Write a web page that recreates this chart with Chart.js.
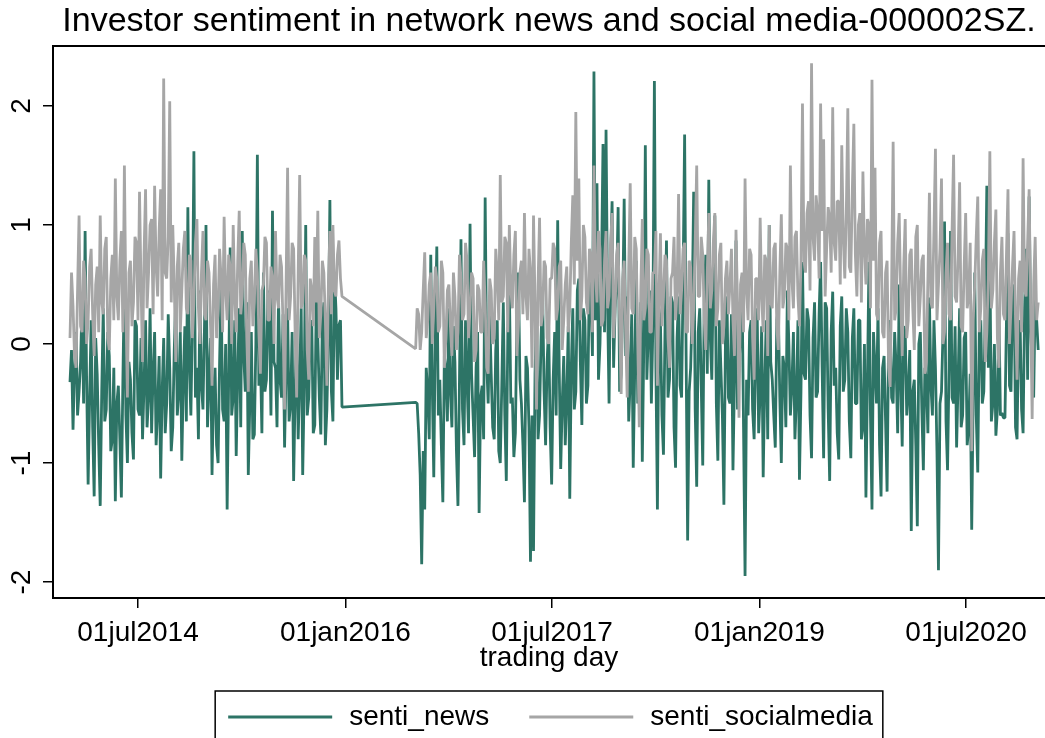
<!DOCTYPE html>
<html>
<head>
<meta charset="utf-8">
<title>Investor sentiment - 000002SZ</title>
<script src="https://cdn.jsdelivr.net/npm/chart.js@4.4.0/dist/chart.umd.min.js"></script>
<style>
  html, body { margin: 0; padding: 0; background: #fff; }
</style>
</head>
<body>
<canvas id="chart" width="1045" height="738"></canvas>
<script>
const titleText = 'Investor sentiment in network news and social media-000002SZ.';
const xTitle = 'trading day';
const seriesNames = ['senti_news', 'senti_socialmedia'];
const seriesColors = ['#2d7466', '#a6a6a6'];

const xTickDates = ['2014-07-01', '2016-01-01', '2017-07-01', '2019-01-01', '2020-07-01'];
const yTickValues = [-2, -1, 0, 1, 2];

// one reading every 4 calendar days; no data between late 2015 and mid 2016
const sampleStepDays = 4;
const firstStart = '2014-01-02';
const secondStart = '2016-07-05';

const newsFirst = [
  -0.32, -0.05, -0.72, -0.20, 0.10, -0.60, -0.40, -0.15, 0.35, -0.50,
  0.95, -0.30, -1.18, -0.45, 0.20, -0.70, -1.28, 0.05, -0.25, -0.85,
  -1.36, -0.40, 0.30, -0.65, -0.55, 0.10, -0.10, -0.90, -0.80, -0.20,
  -1.32, -0.50, -0.35, -0.80, -1.29, -0.30, 0.55, -0.60, -1.00, -0.15,
  -0.30, -0.75, -0.97, 0.20, 0.15, -0.55, -0.60, 0.05, -0.80, -0.35,
  0.20, -0.70, -0.45, 0.30, -0.75, -0.25, 0.10, -0.85, -0.55, -0.10,
  -1.13, -0.40, 0.05, -0.75, -0.50, 0.25, -0.20, -0.90, -0.70, -0.05,
  0.40, -0.60, -0.40, 0.10, -0.98, -0.30, 0.15, -0.65, 1.15, -0.20,
  -0.60, 0.20, 1.62, -0.45, -0.20, -0.80, 0.45, -0.35, -0.55, 0.15,
  1.00, -0.70, -0.30, 0.05, -1.10, -0.40, -0.20, -0.85, -1.00, -0.15,
  0.50, -0.55, -0.65, 0.00, -1.39, -0.30, 0.81, -0.60, -0.45, 0.20,
  -0.94, -0.25, 0.30, -0.70, 0.95, -0.10, -0.40, 0.35, -1.10, -0.50,
  0.10, -0.80, -0.76, 0.00, 1.59, -0.35, -0.10, -0.75, 0.60, -0.40,
  -0.30, 0.45, 0.20, -0.60, 1.12, -0.15, -0.20, -0.70, 0.40, -0.30,
  -0.45, 0.25, -0.87, -0.20, 0.30, -0.65, -0.50, 0.10, -1.15, -0.40,
  0.15, -0.80, -0.30, 0.30, -1.10, -0.35, 1.00, -0.60, -0.45, 0.15,
  0.20, -0.75, -0.68, 0.40, 0.05, -0.45, -0.76, 0.20, 0.35, -0.85,
  -0.55, 0.05, 1.21, -0.40, -0.65, 0.60, 0.30, -0.30, 0.16, 0.20,
  -0.53
];
const socialFirst = [
  0.05, 0.60, 0.32, -0.10, -0.20, 0.45, 1.08, 0.15, 0.10, 0.70,
  0.55, 0.00, 0.20, 0.65, 0.80, 0.25, -0.10, 0.50, 0.65, 0.10,
  1.08, 0.35, 0.25, 0.80, 0.90, 0.05, -0.05, 0.55, 0.75, 0.20,
  1.39, 0.40, 0.20, 0.70, 0.95, 0.10, 1.50, 0.30, -0.45, 0.60,
  0.70, 0.15, 0.35, 0.90, 0.85, 0.20, 1.28, 0.50, -0.15, 0.75,
  1.30, 0.30, 0.60, 1.00, 1.05, 0.25, 1.33, 0.65, 0.40, 0.95,
  1.30, 0.20, 2.23, 0.60, 0.55, 0.90, 2.04, 0.35, 1.00, 0.50,
  -0.15, 0.65, 0.85, 0.10, 0.45, 0.80, 0.95, 0.30, 0.25, 0.75,
  0.70, 0.05, 0.35, 0.85, 1.05, 0.30, 0.00, 0.60, 0.95, 0.25,
  0.20, 0.70, 0.60, 0.15, -0.35, 0.50, 0.75, 0.05, 0.30, 0.80,
  0.55, 0.10, 1.07, 0.45, 0.20, 0.75, 0.65, 0.00, 1.00, 0.40,
  0.10, 0.70, 1.12, 0.25, 0.40, 0.85, 0.75, 0.05, -0.40, 0.55,
  0.70, 0.15, 0.35, 0.80, 0.60, 0.10, -0.25, 0.45, 0.50, 0.90,
  0.85, 0.20, 0.20, 0.65, 0.55, 0.00, 0.95, 0.40, 0.30, 0.75,
  0.65, 0.15, -0.55, 0.50, 1.48, 0.20, 0.40, 0.85, 0.80, 0.10,
  -0.45, 0.60, 1.42, 0.30, 0.35, 0.75, 0.70, -0.05, -0.30, 0.55,
  0.45, 0.15, 0.90, 0.35, 1.12, 0.05, 0.25, 0.70, 0.60, 0.20,
  -0.35, 0.50, 0.95, 0.25, 1.00, 0.45, 0.40, 0.75, 0.87, 0.55,
  0.40
];
const newsSecond = [
  -0.49, -0.50, -0.75, -1.10, -1.85, -0.90, -1.39, -0.20, -0.40, -0.80,
  0.75, -0.35, -1.12, 0.10, 0.82, -0.60, -0.30, -0.85, -1.33, -0.10,
  -0.20, -0.65, 0.30, -0.40, -0.70, 0.15, -0.15, -0.90, -1.36, -0.30,
  0.88, -0.55, -0.85, 0.20, -0.30, -0.75, 1.01, -0.25, -0.60, -0.95,
  -0.20, 0.10, -1.42, -0.45, -0.35, -0.80, 1.23, -0.15, -0.50, 0.25,
  -0.25, -0.70, -0.80, -0.05, 0.20, -0.90, -1.00, -0.35, 0.35, -0.60,
  -1.15, 0.10, 0.50, -0.50, -0.45, -0.95, -0.75, 0.20, 0.60, -0.30,
  -0.50, -0.85, -1.33, -0.10, -0.20, -0.70, -1.83, -0.60, -1.74, -0.25,
  0.30, -0.80, -0.60, 0.05, 0.45, -0.40, -0.85, -0.15, 0.15, -0.70,
  -1.18, -0.30, 0.10, -0.60, 1.04, -0.20, -1.05, -0.50, -0.10, -0.85,
  -0.45, 0.15, -1.30, -0.20, 0.30, -0.55, -0.40, 0.45, 0.55, -0.15,
  -0.68, 0.30, 0.20, -0.50, -0.35, 0.60, 0.40, -0.10, 2.29, 0.20,
  1.35, -0.30, 0.00, 0.65, 1.68, 0.10, 1.80, 0.35, -0.50, 0.70,
  1.20, -0.20, 0.30, 0.50, 1.15, -0.40, -0.25, 0.30, 1.22, -0.10,
  0.40, -0.65, -0.30, 0.25, -1.04, -0.20, 0.70, -0.50, -0.40, 0.35,
  -0.99, 0.00, 1.67, -0.30, 0.10, 0.45, -0.50, 0.15, 2.21, -0.20,
  -1.39, 0.30, 0.20, -0.60, -0.93, 0.10, 0.87, -0.45, -0.30, 0.40,
  0.35, -0.70, -1.04, 0.05, 0.40, -0.35, -0.45, 0.55, 1.76, -0.10,
  -1.65, -0.40, -0.20, 0.30, 1.28, -0.55, -1.20, 0.10, 0.30, -0.35,
  -1.02, 0.40, 0.75, -0.25, 1.38, 0.05, -0.30, 0.60, 1.08, -0.50,
  -0.98, 0.20, -0.20, -0.60, -1.35, 0.00, 0.40, -0.45, -0.50, 0.25,
  -1.06, -0.30, 0.87, -0.55, -0.20, 0.10, 0.50, -0.70, -1.95, -0.30,
  -0.60, 0.10, 0.20, -0.55, -0.80, -0.10, 0.30, -0.75, -0.40, 0.15,
  -1.12, -0.35, 0.20, -0.80, 1.00, -0.15, -0.30, -0.60, -0.87, 0.20,
  0.30, -0.45, -1.00, -0.10, -0.20, -0.70, 0.45, 0.00, -0.60, -0.35,
  0.10, -0.80, -0.45, 0.20, -1.14, -0.40, 0.69, -0.25, -0.30, 0.30,
  0.20, -0.60, -0.96, 0.05, 0.35, -0.45, -0.40, 0.25, 0.69, -0.20,
  -0.96, 0.35, 0.30, -0.55, -1.15, 0.10, 0.44, -0.35, -0.20, -0.75,
  -0.97, 0.15, 0.40, -0.40, -0.30, 0.30, 0.10, -0.65, -0.96, 0.05,
  0.30, -0.50, -0.50, 0.20, 0.20, -0.80, -0.70, 0.00, -1.29, -0.30,
  0.69, -0.60, -1.39, 0.10, -0.20, -0.50, 0.30, -0.85, -1.28, -0.20,
  -0.10, -0.65, -1.24, 0.05, 0.20, -0.45, -0.50, 0.10, -0.20, -0.75,
  0.50, -0.30, -0.86, 0.15, 0.10, -0.60, -0.40, -0.05, -1.57, -0.40,
  -0.30, -0.85, -1.53, 0.00, 0.10, -0.55, -1.06, -0.20, -0.30, -0.75,
  0.39, -0.35, -0.60, 0.20, -0.20, -0.90, -1.90, -0.50, -0.40, 0.10,
  1.03, -0.65, -1.06, -0.20, 0.95, -0.45, -0.50, 0.15, -0.87, -0.30,
  0.30, -0.70, -0.60, 0.05, 0.10, -0.85, -0.70, -0.25, -1.56, -0.40,
  0.60, -0.60, -1.08, 0.10, 0.20, -0.50, -0.40, 0.30, 1.33, -0.20,
  0.75, -0.65, -0.50, 0.00, -0.77, -0.55, 0.30, -0.60, -0.58, -0.62,
  -0.62, 0.20, 0.93, -0.35, -0.40, 0.40, 0.50, -0.70, -0.80, 0.10,
  0.20, -0.55, -0.75, 0.30, 0.80, -0.30, 1.24, 0.15, -0.20, -0.45,
  0.40, 0.20, -0.05
];
const socialSecond = [
  -0.04, 0.30, 0.25, -0.05, 0.10, 0.45, 0.77, 0.05, 0.20, 0.50,
  0.60, 0.00, 0.30, 0.65, 0.55, 0.10, 0.15, 0.70, 0.60, -0.20,
  0.05, 0.45, 0.50, 0.15, -0.10, 0.60, 0.40, -0.05, 0.10, 0.75,
  0.55, 0.20, 0.25, 0.85, 0.70, 0.05, 0.30, 0.60, 0.55, -0.15,
  -0.05, 0.50, 0.45, 0.10, 0.10, 0.70, 0.35, -0.20, -0.25, 0.55,
  0.45, 0.00, 0.05, 0.80, 0.60, 0.20, 1.42, 0.35, 0.40, 0.90,
  0.85, 0.10, 1.00, 0.45, 0.30, 0.75, 0.95, -0.10, 0.15, 0.60,
  0.70, 0.25, 1.10, 0.40, 0.20, 0.80, 0.60, -0.20, 1.08, 0.35,
  -0.55, 0.50, 1.06, 0.15, 0.25, 0.70, 0.65, 0.05, 0.00, 0.55,
  0.55, 0.85, 0.80, 0.20, 0.30, 0.65, 0.70, -0.05, 0.20, 0.50,
  0.65, 0.10, 0.30, 0.85, 1.25, 0.50, 1.95, 0.70, 1.39, 0.20,
  0.40, 1.00, 0.90, 0.35, 0.25, 0.80, 0.75, 0.10, 1.50, 0.60,
  0.35, 0.95, 0.80, 0.15, 0.20, 0.70, 0.95, 0.30, 0.40, 0.85,
  1.10, 0.05, 0.30, 0.75, 0.85, 0.20, -0.42, 0.55, 0.70, 0.10,
  -0.45, 0.65, 1.35, 0.30, 0.25, 0.90, 0.80, 0.00, -0.70, 0.45,
  1.05, 0.20, 0.30, 0.80, 0.75, 0.10, 0.10, 0.60, 0.60, 0.95,
  -0.35, 0.40, 0.93, 0.15, 0.40, 0.75, 0.70, 0.05, -0.20, 0.55,
  0.60, 0.90, 0.20, 0.45, 1.26, 0.25, 0.45, 0.80, 0.85, 0.10,
  0.10, 0.70, 0.65, 0.00, 0.30, 0.85, 1.50, 0.40, 0.40, 0.90,
  0.75, 0.20, -0.05, 0.60, 1.10, 0.30, 0.45, 0.85, 1.10, 0.15,
  0.30, 0.75, 0.85, 0.00, 0.15, 0.55, 0.70, 0.25, 0.50, 0.80,
  0.20, -0.10, 0.96, 0.35, -0.62, 0.50, 0.60, 0.10, 1.39, 0.45,
  0.20, 0.80, 0.75, 0.05, -0.30, 0.55, 0.55, 0.20, 1.06, 0.40,
  0.10, 0.75, 0.70, -0.10, 1.00, 0.35, 0.30, 0.80, 0.85, 0.15,
  -0.05, 0.60, 1.09, 0.30, 0.40, 0.85, 0.80, 0.20, 1.50, 0.55,
  0.30, 0.90, 0.95, 0.40, 0.15, 0.70, 2.02, 0.70, 0.60, 1.10,
  1.20, 0.45, 2.36, 0.90, 0.70, 1.25, 1.10, 0.55, 2.02, 0.95,
  1.72, 0.40, 0.80, 1.15, 1.05, 0.60, 1.99, 0.85, 0.70, 1.20,
  1.20, 0.50, 1.67, 0.90, 0.55, 1.10, 1.98, 0.65, 0.60, 1.30,
  1.85, 0.75, 0.40, 1.00, 1.10, 0.35, 1.45, 0.80, 0.50, 1.05,
  1.00, 0.30, 2.22, 0.70, 1.48, 0.25, 0.20, 0.85, 0.95, 0.10,
  0.05, 0.60, 0.70, -0.20, -0.36, 0.50, 1.70, 0.20, 0.30, 0.85,
  1.10, 0.40, -0.10, 0.65, 1.05, 0.05, 0.20, 0.75, 0.80, 0.30,
  -0.05, 0.90, 1.00, 0.15, 0.40, 0.70, 0.75, -0.25, -0.15, 0.55,
  1.27, 0.35, 0.30, 0.95, 1.64, 0.20, 0.50, 0.80, 1.39, 0.00,
  0.10, 0.60, 0.85, 0.25, 0.20, 0.95, 1.59, 0.40, 0.35, 0.75,
  1.36, 0.15, 0.10, 0.65, 1.10, 0.30, 0.40, 0.85, -0.90, 0.20,
  0.50, 0.90, 1.24, 0.10, 0.30, 0.70, 0.80, -0.15, 0.10, 0.55,
  1.62, 0.30, 0.45, 0.85, 1.13, 0.05, -0.20, 0.60, 0.90, 0.25,
  0.20, 0.75, 1.30, 0.00, 0.30, 0.65, 0.95, 0.20, -0.30, 0.55,
  0.70, 0.10, 1.56, 0.45, 0.40, 0.85, 1.30, 0.30, -0.63, 0.50,
  0.90, 0.20, 0.35
];

// dates are kept as Stata daily values (days since 01jan1960)
const DAY_MS = 86400000;
const EPOCH = Date.UTC(1960, 0, 1);
const MONTHS = ['jan', 'feb', 'mar', 'apr', 'may', 'jun', 'jul', 'aug', 'sep', 'oct', 'nov', 'dec'];

function toStataDay(iso) {
  return Math.round((Date.parse(iso) - EPOCH) / DAY_MS);
}

function fmtDay(d) {
  const dt = new Date(EPOCH + d * DAY_MS);
  return String(dt.getUTCDate()).padStart(2, '0') + MONTHS[dt.getUTCMonth()] + dt.getUTCFullYear();
}

function toPoints(start, vals) {
  const s = toStataDay(start);
  return vals.map((v, i) => ({ x: s + i * sampleStepDays, y: v }));
}

const newsData = toPoints(firstStart, newsFirst).concat(toPoints(secondStart, newsSecond));
const socialData = toPoints(firstStart, socialFirst).concat(toPoints(secondStart, socialSecond));
const xTickDays = xTickDates.map(toStataDay);

const FONT = '"Liberation Sans", Arial, sans-serif';
Chart.defaults.font.family = FONT;
Chart.defaults.color = '#000';

// top edge of the plot region
const frameTop = {
  id: 'frameTop',
  afterDraw(chart) {
    const { ctx, chartArea } = chart;
    ctx.save();
    ctx.strokeStyle = '#000';
    ctx.lineWidth = 2;
    ctx.beginPath();
    ctx.moveTo(chartArea.left, chartArea.top);
    ctx.lineTo(chartArea.right, chartArea.top);
    ctx.stroke();
    ctx.restore();
  }
};

// y labels standing on their side, as Stata draws them
const yTickText = {
  id: 'yTickText',
  afterDraw(chart) {
    const { ctx } = chart;
    const y = chart.scales.y;
    ctx.save();
    ctx.font = '28px ' + FONT;
    ctx.fillStyle = '#000';
    ctx.textAlign = 'center';
    ctx.textBaseline = 'middle';
    y.ticks.forEach(t => {
      ctx.save();
      ctx.translate(y.right - 30.5, y.getPixelForValue(t.value));
      ctx.rotate(-Math.PI / 2);
      ctx.fillText(String(t.value), 0, 0);
      ctx.restore();
    });
    ctx.restore();
  }
};

// legend in a frame under the axis title
const boxedLegend = {
  id: 'boxedLegend',
  afterDraw(chart) {
    const { ctx, chartArea } = chart;
    const top = chartArea.bottom + 93;
    const midY = top + 26;
    const lineLen = 104, gapText = 17, gapItem = 40, padL = 13, padR = 10;
    ctx.save();
    ctx.font = '28px ' + FONT;
    const items = chart.data.datasets.map(ds => ({
      label: ds.label,
      color: ds.borderColor,
      w: ctx.measureText(ds.label).width
    }));
    const total = padL + padR + gapItem * (items.length - 1) +
      items.reduce((a, it) => a + lineLen + gapText + it.w, 0);
    let x = (chartArea.left + chartArea.right) / 2 - total / 2;
    ctx.strokeStyle = '#000';
    ctx.lineWidth = 1.5;
    ctx.strokeRect(x, top, total, 80);
    x += padL;
    items.forEach(it => {
      ctx.strokeStyle = it.color;
      ctx.lineWidth = 2.8;
      ctx.beginPath();
      ctx.moveTo(x, midY);
      ctx.lineTo(x + lineLen, midY);
      ctx.stroke();
      x += lineLen + gapText;
      ctx.fillStyle = '#000';
      ctx.textAlign = 'left';
      ctx.textBaseline = 'middle';
      ctx.fillText(it.label, x, midY);
      x += it.w + gapItem;
    });
    ctx.restore();
  }
};

new Chart(document.getElementById('chart').getContext('2d'), {
  type: 'line',
  data: {
    datasets: [
      {
        label: seriesNames[0],
        data: newsData,
        borderColor: seriesColors[0],
        borderWidth: 2.8,
        borderJoinStyle: 'bevel',
        pointRadius: 0,
        tension: 0,
        order: 2
      },
      {
        label: seriesNames[1],
        data: socialData,
        borderColor: seriesColors[1],
        borderWidth: 2.8,
        borderJoinStyle: 'bevel',
        pointRadius: 0,
        tension: 0,
        order: 1
      }
    ]
  },
  options: {
    responsive: false,
    animation: false,
    layout: { padding: { left: 0, right: 0, top: 0, bottom: 63 } },
    plugins: {
      legend: { display: false },
      tooltip: { enabled: false },
      title: {
        display: true,
        text: titleText,
        fullSize: false,
        color: '#000',
        font: { size: 34, weight: 'normal' },
        padding: { top: 1.2, bottom: 4 }
      }
    },
    scales: {
      x: {
        type: 'linear',
        min: 19680,
        max: 22306,
        afterBuildTicks: s => { s.ticks = xTickDays.map(v => ({ value: v })); },
        afterFit: s => { s.height = 77; },
        ticks: {
          callback: v => fmtDay(v),
          color: '#000',
          font: { size: 28 },
          padding: 8,
          maxRotation: 0,
          autoSkip: false
        },
        grid: { drawOnChartArea: false, drawTicks: true, tickLength: 10, color: '#000', lineWidth: 1.5 },
        border: { display: true, color: '#000', width: 2 },
        title: { display: true, text: xTitle, color: '#000', font: { size: 28 }, padding: { top: 0, bottom: 0 } }
      },
      y: {
        min: -2.134,
        max: 2.504,
        afterBuildTicks: s => { s.ticks = yTickValues.map(v => ({ value: v })); },
        afterFit: s => { s.width = 53; },
        ticks: { display: false },
        grid: { drawOnChartArea: false, drawTicks: true, tickLength: 10, color: '#000', lineWidth: 1.5 },
        border: { display: true, color: '#000', width: 2 }
      }
    }
  },
  plugins: [frameTop, yTickText, boxedLegend]
});
</script>
</body>
</html>
